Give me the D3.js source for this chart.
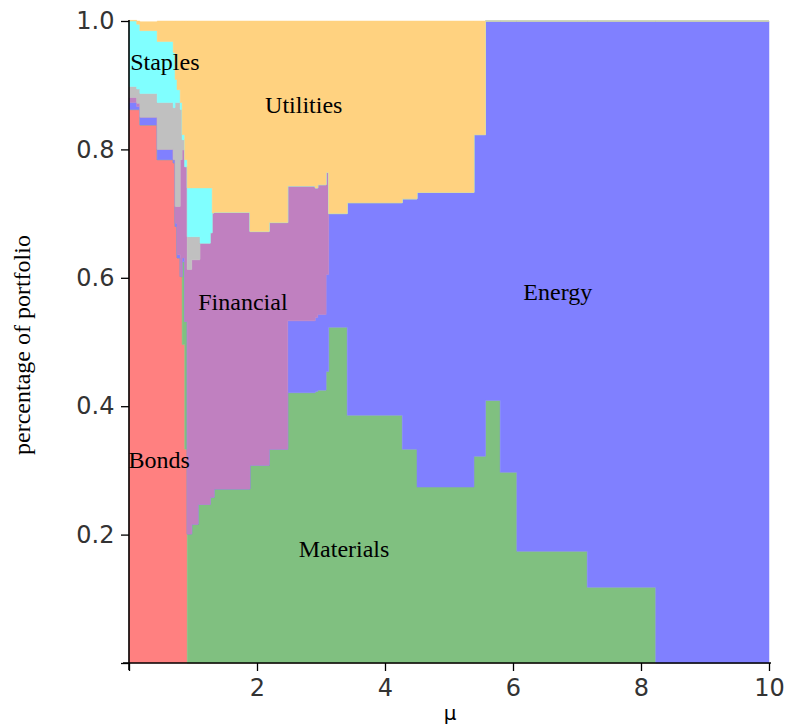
<!DOCTYPE html>
<html>
<head>
<meta charset="utf-8">
<script src="https://cdn.jsdelivr.net/npm/d3@7"></script>
<style>
  body { margin: 0; background: #fff; }
  svg { display: block; }
</style>
</head>
<body>
<div id="chart"></div>
<script>
// expected return (mu) at each step of the frontier
var mu = [0, 0.12, 0.17, 0.44, 0.69, 0.72, 0.75, 0.80, 0.83, 0.87, 0.91, 0.98, 1.08, 1.11, 1.27, 1.30, 1.33,
  1.89, 2.19, 2.48, 2.91, 2.95, 3.08, 3.12, 3.41, 4.27, 4.5, 5.39, 5.57, 5.8, 6.06, 7.16, 8.23, 10];

// share of portfolio per sector
var bonds = [0.862, 0.862, 0.838, 0.784, 0.779, 0.680, 0.631, 0.602, 0.496, 0.333, 0, 0, 0, 0, 0, 0, 0,
  0, 0, 0, 0, 0, 0, 0, 0, 0, 0, 0, 0, 0, 0, 0, 0, 0];
var materials = [0, 0, 0, 0, 0, 0, 0, 0, 0.129, 0.199, 0.201, 0.216, 0.247, 0.247, 0.258, 0.258, 0.271,
  0.308, 0.333, 0.421, 0.423, 0.425, 0.454, 0.523, 0.386, 0.333, 0.274, 0.322, 0.409, 0.297, 0.174, 0.118, 0, 0];
var energy = [0.011, 0.005, 0.012, 0.016, 0.005, 0.005, 0.005, 0, 0.006, 0, 0, 0, 0, 0, 0, 0, 0,
  0, 0, 0.112, 0.115, 0.118, 0.151, 0.177, 0.331, 0.390, 0.459, 0.501, 0.591, 0.703, 0.826, 0.882, 1, 1];
var financial = [0.008, 0.005, 0, 0, 0, 0.026, 0.075, 0.182, 0.168, 0.241, 0.412, 0.412, 0.381, 0.407, 0.412, 0.443, 0.431,
  0.364, 0.353, 0.210, 0.202, 0.202, 0.159, 0, 0, 0, 0, 0, 0, 0, 0, 0, 0, 0];
var other = [0.017, 0.022, 0.037, 0.073, 0.081, 0.162, 0.162, 0.078, 0.016, 0, 0.051, 0.036, 0.036, 0, 0, 0, 0,
  0, 0, 0, 0, 0, 0, 0, 0, 0, 0, 0, 0, 0, 0, 0, 0, 0];
var staples = [0.103, 0.101, 0.098, 0.095, 0.086, 0.036, 0.020, 0.011, 0.008, 0.011, 0.076, 0.076, 0.076, 0.086, 0.070, 0, 0,
  0, 0, 0, 0, 0, 0, 0, 0, 0, 0, 0, 0, 0, 0, 0, 0, 0];
var utilities = [0, 0.006, 0.014, 0.033, 0.050, 0.092, 0.107, 0.128, 0.177, 0.216, 0.260, 0.260, 0.260, 0.260, 0.260, 0.299, 0.299,
  0.328, 0.314, 0.257, 0.260, 0.255, 0.236, 0.300, 0.283, 0.277, 0.267, 0.177, 0, 0, 0, 0, 0, 0];

var sectors = ["Bonds", "Materials", "Energy", "Financial", "Other", "Staples", "Utilities"];
var colors = ["#ff8080", "#80c080", "#8080ff", "#c080c0", "#c0c0c0", "#80ffff", "#ffd280"];

// where the sector names sit (mu, share)
var labels = [
  {name: "Staples", x: 0.56, y: 0.924},
  {name: "Utilities", x: 2.73, y: 0.857},
  {name: "Financial", x: 1.78, y: 0.55},
  {name: "Energy", x: 6.7, y: 0.566},
  {name: "Bonds", x: 0.47, y: 0.303},
  {name: "Materials", x: 3.36, y: 0.165}
];

var xTicks = [0, 2, 4, 6, 8, 10];
var yTicks = [0, 0.2, 0.4, 0.6, 0.8, 1.0];

var w = 789, h = 727;

var svg = d3.select("#chart").append("svg")
  .attr("width", w)
  .attr("height", h);

var x = d3.scaleLinear().domain([0, 10]).range([129, 769]);
var y = d3.scaleLinear().domain([0, 1]).range([663, 21]);

var table = mu.map(function (m, i) {
  return {
    mu: m, Bonds: bonds[i], Materials: materials[i], Energy: energy[i], Financial: financial[i],
    Other: other[i], Staples: staples[i], Utilities: utilities[i]
  };
});

var stack = d3.stack().keys(sectors);
var layers = stack(table);

var area = d3.area()
  .curve(d3.curveStepAfter)
  .x(function (d) { return x(d.data.mu); })
  .y0(function (d) { return y(d[0]); })
  .y1(function (d) { return y(Math.min(d[1], 1)); });

svg.append("g").selectAll("path")
  .data(layers)
  .enter()
  .append("path")
  .attr("d", area)
  .attr("fill", function (d, i) { return colors[i]; })
  .attr("stroke", function (d, i) { return colors[i]; })
  .attr("stroke-width", 0.5);

// sector names
svg.append("g").selectAll("text")
  .data(labels)
  .enter()
  .append("text")
  .attr("x", function (d) { return x(d.x); })
  .attr("y", function (d) { return y(d.y); })
  .attr("text-anchor", "middle")
  .attr("font-family", "Liberation Serif, serif")
  .attr("font-size", 24)
  .attr("fill", "#000")
  .text(function (d) { return d.name; });

// axes
var xAxis = svg.append("g").attr("transform", "translate(0," + y(0) + ")");
xAxis.call(d3.axisBottom(x).tickValues(d3.range(0, 10.01, 0.5)).tickSize(4).tickFormat(""));
xAxis.call(d3.axisBottom(x).tickValues(xTicks).tickSize(8)
  .tickFormat(function (d) { return d === 0 ? "" : d3.format("d")(d); }));

var yAxis = svg.append("g").attr("transform", "translate(" + x(0) + ",0)");
yAxis.call(d3.axisLeft(y).tickValues(d3.range(0, 1.001, 0.05)).tickSize(4).tickFormat(""));
yAxis.call(d3.axisLeft(y).tickValues(yTicks).tickSize(8)
  .tickFormat(function (d) { return d === 0 ? "" : d3.format(".1f")(d); }));

svg.selectAll(".domain").remove();
svg.selectAll(".tick line").attr("stroke", "#000").attr("stroke-width", 1.3);
svg.selectAll(".tick text")
  .attr("font-family", "DejaVu Sans, sans-serif")
  .attr("font-size", 24)
  .attr("fill", "#333");
xAxis.selectAll(".tick text").attr("dy", "0.9em");
yAxis.selectAll(".tick text").attr("dx", "-0.15em");

// axis lines
svg.append("line")
  .attr("x1", x(0) - 6).attr("x2", x(10) + 2)
  .attr("y1", y(0)).attr("y2", y(0))
  .attr("stroke", "#000").attr("stroke-width", 1.6);
svg.append("line")
  .attr("x1", x(0)).attr("x2", x(0))
  .attr("y1", y(1) - 1).attr("y2", y(0) + 7)
  .attr("stroke", "#000").attr("stroke-width", 1.6);

// axis titles
svg.append("text")
  .attr("x", 450)
  .attr("y", 720)
  .attr("text-anchor", "middle")
  .attr("font-family", "DejaVu Sans, sans-serif")
  .attr("font-size", 20)
  .attr("fill", "#000")
  .text("μ");

svg.append("text")
  .attr("transform", "translate(30,345) rotate(-90)")
  .attr("text-anchor", "middle")
  .attr("font-family", "Liberation Serif, serif")
  .attr("font-size", 24)
  .attr("fill", "#000")
  .text("percentage of portfolio");
</script>
</body>
</html>
